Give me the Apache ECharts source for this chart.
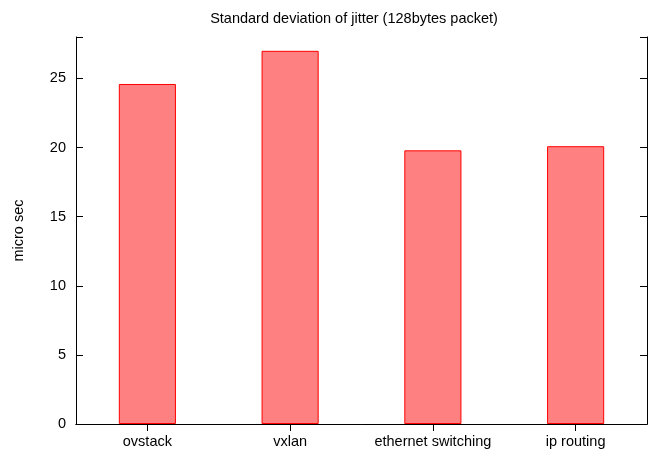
<!DOCTYPE html>
<html>
<head>
<meta charset="utf-8">
<script src="https://cdn.jsdelivr.net/npm/echarts@6/dist/echarts.min.js"></script>
<style>
  html, body { margin: 0; padding: 0; background: #fff; }
  #chart { width: 660px; height: 453px; }
</style>
</head>
<body>
<div id="chart"></div>
<script>
// Jitter standard deviation per forwarding mode (128-byte packets)
const categories = ['ovstack', 'vxlan', 'ethernet switching', 'ip routing'];
const jitterStdDev = [24.6, 27.0, 19.8, 20.1];
const yTicks = [0, 5, 10, 15, 20, 25];

const FONT = 'Liberation Sans, Arial, Helvetica, sans-serif';
const FS = 14.5;
const frameLine = { show: true, lineStyle: { color: '#000', width: 1 } };
const innerTick = { show: true, inside: true, length: 7, lineStyle: { color: '#000', width: 1 } };
const catTick = Object.assign({ alignWithLabel: true, interval: 0 }, innerTick);

const chart = echarts.init(document.getElementById('chart'), null, { renderer: 'canvas' });
chart.setOption({
  animation: false,
  backgroundColor: '#fff',
  title: {
    text: 'Standard deviation of jitter (128bytes packet)',
    left: 349,
    top: 6,
    textAlign: 'center',
    textStyle: { fontFamily: FONT, fontSize: FS, fontWeight: 'normal', color: '#000' }
  },
  grid: { left: 76, right: 13, top: 37, bottom: 29, containLabel: false },
  xAxis: [
    {
      type: 'category',
      data: categories,
      position: 'bottom',
      axisLine: frameLine,
      axisTick: catTick,
      axisLabel: { interval: 0, hideOverlap: false, fontFamily: FONT, fontSize: FS, color: '#000', margin: 10 },
      splitLine: { show: false }
    },
    {
      type: 'category',
      data: categories,
      position: 'top',
      axisLine: frameLine,
      axisTick: catTick,
      axisLabel: { show: false },
      splitLine: { show: false }
    }
  ],
  yAxis: [
    {
      type: 'value',
      min: 0,
      max: 28,
      interval: 5,
      position: 'left',
      name: 'micro sec',
      nameLocation: 'middle',
      nameGap: 50,
      nameRotate: 90,
      nameTextStyle: { fontFamily: FONT, fontSize: FS, color: '#000' },
      axisLine: frameLine,
      axisTick: innerTick,
      axisLabel: {
        fontFamily: FONT, fontSize: FS, color: '#000', margin: 10,
        formatter: v => (yTicks.includes(v) ? String(v) : '')
      },
      splitLine: { show: false }
    },
    {
      type: 'value',
      min: 0,
      max: 28,
      interval: 5,
      position: 'right',
      axisLine: frameLine,
      axisTick: innerTick,
      axisLabel: { show: false },
      splitLine: { show: false }
    }
  ],
  series: [
    {
      type: 'bar',
      xAxisIndex: 0,
      yAxisIndex: 0,
      data: jitterStdDev,
      barWidth: '40%',
      itemStyle: { color: '#ff8080', borderColor: '#ff0000', borderWidth: 1 }
    }
  ]
});
</script>
</body>
</html>
